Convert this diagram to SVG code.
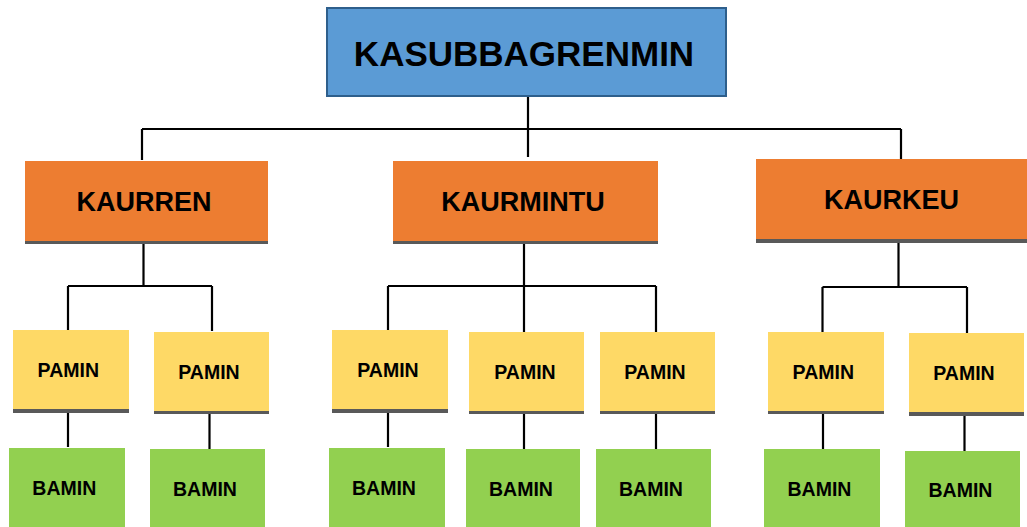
<svg xmlns="http://www.w3.org/2000/svg" width="1027" height="527" viewBox="0 0 1027 527">
<style>
text{font-family:"Liberation Sans",Arial,sans-serif;font-weight:bold;fill:#000;text-anchor:middle}
.top{fill:#5B9BD5;stroke:#2E5F8C;stroke-width:2}
.or{fill:#ED7D31}
.ye{fill:#FED966}
.gr{fill:#92D050}
.sh{fill:#595959}
.t1{font-size:35px}
.t2{font-size:27px}
.t3{font-size:19.5px}
#connectors path{fill:none;stroke:#000;stroke-width:2.2}
</style>
<rect width="1027" height="527" fill="#fff"/>
<g id="connectors">
<path d="M528,97V157M142,129H901M142,129V160M901,129V159"/>
<path d="M143.5,241V286M68,286H212M68,286V330M212,286V331"/>
<path d="M68,412V447M209.5,414V449"/>
<path d="M524,241V286M388,286H656M388,286V330M524,286V332M656,286V332"/>
<path d="M388,412V447M524,414V449M656,414V449"/>
<path d="M898.5,243V287M822.5,287H967M822.5,287V332M967,287V333"/>
<path d="M823,414V449M964.5,416V451"/>
</g>
<g id="n-top"><rect class="top" x="327" y="8" width="399" height="88"/><text class="t1" x="524" y="66">KASUBBAGRENMIN</text></g>
<g id="n-kaurren"><rect class="sh" x="25" y="161" width="243" height="83"/><rect class="or" x="25" y="161" width="243" height="80"/><text class="t2" x="144" y="211">KAURREN</text></g>
<g id="n-kaurmintu"><rect class="sh" x="393" y="161" width="265" height="83"/><rect class="or" x="393" y="161" width="265" height="80"/><text class="t2" x="523" y="211">KAURMINTU</text></g>
<g id="n-kaurkeu"><rect class="sh" x="756" y="159" width="271" height="84"/><rect class="or" x="756" y="159" width="271" height="80"/><text class="t2" x="891.5" y="209">KAURKEU</text></g>
<g id="n-pamin1"><rect class="sh" x="13" y="330" width="116" height="83"/><rect class="ye" x="13" y="330" width="116" height="79"/><text class="t3" x="68.3" y="377">PAMIN</text></g>
<g id="n-pamin2"><rect class="sh" x="154" y="332" width="115" height="82"/><rect class="ye" x="154" y="332" width="115" height="79"/><text class="t3" x="209" y="379">PAMIN</text></g>
<g id="n-pamin3"><rect class="sh" x="332" y="330" width="116" height="83"/><rect class="ye" x="332" y="330" width="116" height="79"/><text class="t3" x="388" y="377">PAMIN</text></g>
<g id="n-pamin4"><rect class="sh" x="469" y="332" width="115" height="82"/><rect class="ye" x="469" y="332" width="115" height="79"/><text class="t3" x="525" y="379">PAMIN</text></g>
<g id="n-pamin5"><rect class="sh" x="600" y="332" width="115" height="82"/><rect class="ye" x="600" y="332" width="115" height="79"/><text class="t3" x="655" y="379">PAMIN</text></g>
<g id="n-pamin6"><rect class="sh" x="768" y="332" width="116" height="82"/><rect class="ye" x="768" y="332" width="116" height="79"/><text class="t3" x="823.3" y="379">PAMIN</text></g>
<g id="n-pamin7"><rect class="sh" x="909" y="333" width="115" height="83"/><rect class="ye" x="909" y="333" width="115" height="79"/><text class="t3" x="964" y="380">PAMIN</text></g>
<g id="n-bamin1"><rect class="gr" x="9" y="448" width="116" height="79"/><text class="t3" x="64.3" y="495">BAMIN</text></g>
<g id="n-bamin2"><rect class="gr" x="150" y="449" width="115" height="78"/><text class="t3" x="205" y="496">BAMIN</text></g>
<g id="n-bamin3"><rect class="gr" x="329" y="448" width="116" height="79"/><text class="t3" x="384" y="495">BAMIN</text></g>
<g id="n-bamin4"><rect class="gr" x="466" y="449" width="114" height="78"/><text class="t3" x="521" y="496">BAMIN</text></g>
<g id="n-bamin5"><rect class="gr" x="596" y="449" width="115" height="78"/><text class="t3" x="651" y="496">BAMIN</text></g>
<g id="n-bamin6"><rect class="gr" x="764" y="449" width="116" height="78"/><text class="t3" x="819.5" y="496">BAMIN</text></g>
<g id="n-bamin7"><rect class="gr" x="905" y="451" width="115" height="76"/><text class="t3" x="960.5" y="497">BAMIN</text></g>
</svg>
